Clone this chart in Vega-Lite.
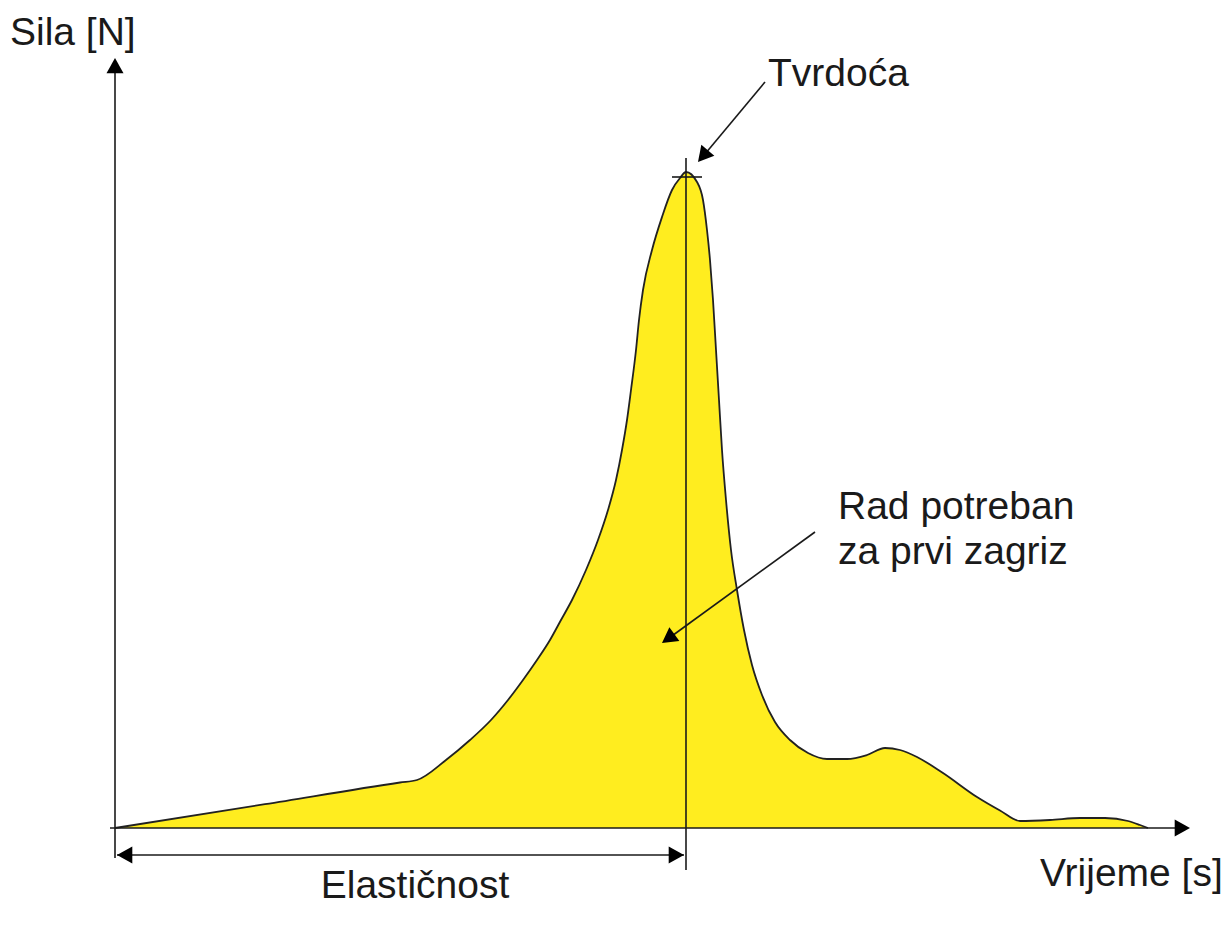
{
  "$schema": "https://vega.github.io/schema/vega-lite/v6.json",
  "width": 1228,
  "height": 926,
  "autosize": "none",
  "padding": 0,
  "background": "white",
  "config": {"view": {"stroke": null}},
  "datasets": {
    "curve": [
      {"t": 0, "F": 0}, {"t": 1.5, "F": 0.238}, {"t": 2.85, "F": 0.455}, {"t": 3.02, "F": 0.48},
      {"t": 3.31, "F": 0.68}, {"t": 3.55, "F": 0.88}, {"t": 3.76, "F": 1.08}, {"t": 3.93, "F": 1.28},
      {"t": 4.08, "F": 1.48}, {"t": 4.22, "F": 1.68}, {"t": 4.35, "F": 1.88}, {"t": 4.46, "F": 2.08},
      {"t": 4.57, "F": 2.28}, {"t": 4.71, "F": 2.58}, {"t": 4.83, "F": 2.88}, {"t": 4.93, "F": 3.18},
      {"t": 5.01, "F": 3.48}, {"t": 5.07, "F": 3.78}, {"t": 5.12, "F": 4.08}, {"t": 5.16, "F": 4.38},
      {"t": 5.21, "F": 4.78}, {"t": 5.24, "F": 5.08}, {"t": 5.28, "F": 5.38}, {"t": 5.37, "F": 5.78},
      {"t": 5.47, "F": 6.11}, {"t": 5.57, "F": 6.38}, {"t": 5.65, "F": 6.5}, {"t": 5.71, "F": 6.56},
      {"t": 5.82, "F": 6.46}, {"t": 5.88, "F": 6.28}, {"t": 5.92, "F": 5.98}, {"t": 5.95, "F": 5.68},
      {"t": 5.98, "F": 5.28}, {"t": 6.01, "F": 4.78}, {"t": 6.04, "F": 4.28}, {"t": 6.07, "F": 3.78},
      {"t": 6.11, "F": 3.28}, {"t": 6.16, "F": 2.78}, {"t": 6.22, "F": 2.38}, {"t": 6.29, "F": 1.98},
      {"t": 6.37, "F": 1.63}, {"t": 6.47, "F": 1.33}, {"t": 6.6, "F": 1.06}, {"t": 6.75, "F": 0.88},
      {"t": 6.93, "F": 0.75}, {"t": 7.12, "F": 0.69}, {"t": 7.32, "F": 0.69}, {"t": 7.52, "F": 0.73},
      {"t": 7.7, "F": 0.8}, {"t": 7.85, "F": 0.78}, {"t": 8.02, "F": 0.71}, {"t": 8.28, "F": 0.55},
      {"t": 8.62, "F": 0.31}, {"t": 8.85, "F": 0.175}, {"t": 9.05, "F": 0.07}, {"t": 9.35, "F": 0.08},
      {"t": 9.65, "F": 0.1}, {"t": 9.9, "F": 0.1}, {"t": 10.13, "F": 0.07}, {"t": 10.25, "F": 0.03},
      {"t": 10.33, "F": 0}
    ],
    "rules": [
      {"name": "yaxis", "t": 0, "t2": 0, "F": -0.3, "F2": 7.65},
      {"name": "xaxis", "t": -0.05, "t2": 10.7, "F": 0, "F2": 0},
      {"name": "peak", "t": 5.71, "t2": 5.71, "F": -0.42, "F2": 6.7},
      {"name": "peaktick", "t": 5.57, "t2": 5.87, "F": 6.51, "F2": 6.51},
      {"name": "elast", "t": 0.02, "t2": 5.69, "F": -0.27, "F2": -0.27},
      {"name": "tvrdoca", "t": 6.5, "t2": 5.85, "F": 7.46, "F2": 6.68},
      {"name": "rad", "t": 7.0, "t2": 5.5, "F": 2.96, "F2": 1.87}
    ],
    "heads": [
      {"t": 0, "F": 7.7, "angle": 0},
      {"t": 10.75, "F": 0, "angle": 90},
      {"t": 5.83, "F": 6.66, "angle": 220},
      {"t": 5.47, "F": 1.85, "angle": 234},
      {"t": 0.02, "F": -0.27, "angle": 270},
      {"t": 5.69, "F": -0.27, "angle": 90}
    ],
    "labels": [
      {"t": -1.05, "F": 7.95, "text": "Sila [N]", "align": "left"},
      {"t": 6.53, "F": 7.54, "text": "Tvrdoća", "align": "left"},
      {"t": 7.23, "F": 3.21, "text": "Rad potreban", "align": "left"},
      {"t": 7.23, "F": 2.76, "text": "za prvi zagriz", "align": "left"},
      {"t": 9.25, "F": -0.46, "text": "Vrijeme [s]", "align": "left"},
      {"t": 3.0, "F": -0.58, "text": "Elastičnost", "align": "center"}
    ]
  },
  "layer": [
    {
      "data": {"name": "curve"},
      "mark": {"type": "area", "color": "#FFED1F", "interpolate": "monotone"},
      "encoding": {
        "x": {"field": "t", "type": "quantitative", "scale": {"domain": [-1.15, 11.13], "nice": false, "zero": false}, "axis": null},
        "y": {"field": "F", "type": "quantitative", "scale": {"domain": [-0.98, 8.28], "nice": false, "zero": false}, "axis": null},
        "y2": {"datum": 0}
      }
    },
    {
      "data": {"name": "curve"},
      "mark": {"type": "line", "color": "#222222", "strokeWidth": 1.8, "interpolate": "monotone"},
      "encoding": {
        "x": {"field": "t", "type": "quantitative"},
        "y": {"field": "F", "type": "quantitative"}
      }
    },
    {
      "data": {"name": "rules"},
      "mark": {"type": "rule", "color": "#1a1a1a", "strokeWidth": 1.6},
      "encoding": {
        "x": {"field": "t", "type": "quantitative"},
        "x2": {"field": "t2"},
        "y": {"field": "F", "type": "quantitative"},
        "y2": {"field": "F2"}
      }
    },
    {
      "data": {"name": "heads"},
      "mark": {"type": "point", "shape": "M0,0L-1,1.8L1,1.8Z", "filled": true, "color": "#000000", "size": 289, "opacity": 1},
      "encoding": {
        "x": {"field": "t", "type": "quantitative"},
        "y": {"field": "F", "type": "quantitative"},
        "angle": {"field": "angle", "type": "quantitative", "scale": null}
      }
    },
    {
      "data": {"name": "labels"},
      "transform": [{"filter": {"field": "align", "equal": "left"}}],
      "mark": {"type": "text", "font": "Liberation Sans", "fontSize": 39, "color": "#1a1a1a", "baseline": "middle", "align": "left"},
      "encoding": {
        "x": {"field": "t", "type": "quantitative"},
        "y": {"field": "F", "type": "quantitative"},
        "text": {"field": "text"}
      }
    },
    {
      "data": {"name": "labels"},
      "transform": [{"filter": {"field": "align", "equal": "center"}}],
      "mark": {"type": "text", "font": "Liberation Sans", "fontSize": 39, "color": "#1a1a1a", "baseline": "middle", "align": "center"},
      "encoding": {
        "x": {"field": "t", "type": "quantitative"},
        "y": {"field": "F", "type": "quantitative"},
        "text": {"field": "text"}
      }
    }
  ]
}
